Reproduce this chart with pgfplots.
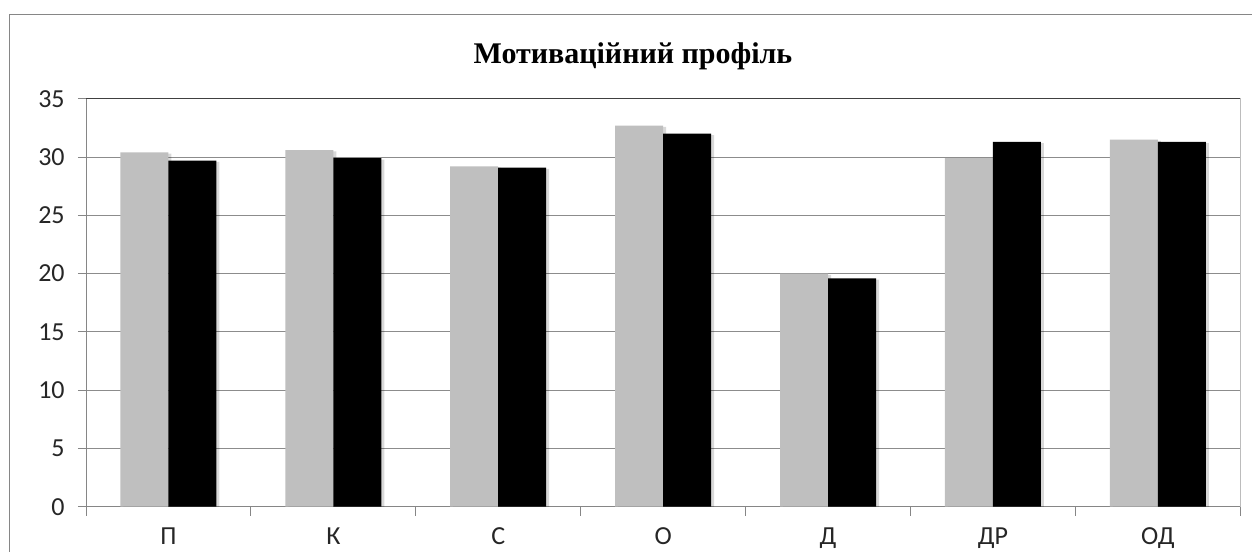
\documentclass[border=0pt]{standalone}
\usepackage{pgfplots}
\pgfplotsset{compat=1.18}
\usepackage{fontspec}
\setmainfont{Carlito}
\newfontfamily\titlefont{Liberation Serif}

\definecolor{barlight}{RGB}{191,191,191}
\definecolor{gridgray}{RGB}{140,140,140}
\definecolor{framegray}{RGB}{134,134,134}
\definecolor{borderdark}{RGB}{64,64,64}

\begin{document}
\begin{tikzpicture}
\useasboundingbox (0,0) rectangle (939pt,413.25pt);
% outer chart frame, cut by the page at right and bottom
\draw[framegray, line width=0.75pt] (6.75pt,-20pt) -- (6.75pt,402pt) -- (960pt,402pt);
\node[font=\titlefont\bfseries\fontsize{22.5}{27}\selectfont, anchor=base]
  at (474.75pt,365.25pt) {Мотиваційний профіль};

\begin{axis}[
  at={(64.5pt,33.2pt)}, anchor=south west,
  scale only axis, width=865.7pt, height=306pt,
  ybar=0pt, bar width=36pt,
  xmin=-0.5, xmax=6.5, ymin=0, ymax=35,
  ytick={0,5,...,35},
  xtick={0,...,6},
  xticklabels={П,К,С,О,Д,ДР,ОД},
  minor xtick={-0.5,0.5,...,6.5},
  axis lines=left,
  axis line style={-, draw=framegray, line width=0.75pt},
  tick align=outside,
  major tick length=6pt,
  minor tick length=6.75pt,
  major x tick style={draw=none},
  minor x tick style={draw=framegray, line width=0.75pt},
  y tick style={draw=framegray, line width=0.75pt},
  ymajorgrids,
  grid style={draw=gridgray, line width=0.75pt},
  tick label style={font=\fontsize{19.5}{23}\selectfont, text=black!85},
  /pgf/number format/assume math mode=true,
  yticklabel style={xshift=-6.5pt},
  xticklabel style={anchor=base, yshift=-22.5pt},
  every axis plot/.append style={preaction={draw=none, fill=black, fill opacity=0.15,
    transform canvas={xshift=2.25pt, yshift=-1pt}}},
]
\addplot[fill=barlight, draw=none] coordinates {
  (0,30.4) (1,30.6) (2,29.2) (3,32.7) (4,20.0) (5,29.9) (6,31.5)};
\addplot[fill=black, draw=none] coordinates {
  (0,29.7) (1,29.9) (2,29.1) (3,32.0) (4,19.6) (5,31.3) (6,31.3)};
\draw[borderdark, line width=1pt] (rel axis cs:0,1) -- (rel axis cs:1,1) -- (rel axis cs:1,0);
\end{axis}
\end{tikzpicture}
\end{document}
